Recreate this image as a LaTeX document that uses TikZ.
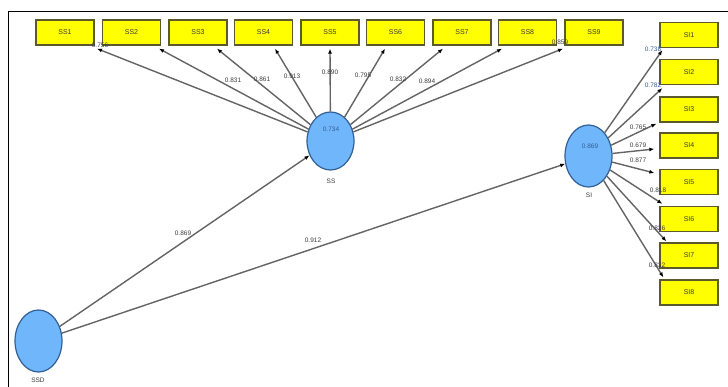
\documentclass[tikz,border=0pt]{standalone}
\usepackage{fontspec}
\setmainfont{Liberation Sans}
\usetikzlibrary{arrows.meta,shapes.geometric}

\definecolor{boxyellow}{RGB}{255,255,0}
\definecolor{boxedge}{RGB}{90,90,45}
\definecolor{latentblue}{RGB}{112,182,250}
\definecolor{latentedge}{RGB}{50,95,150}
\definecolor{pathgray}{RGB}{100,100,100}
\definecolor{txtgray}{RGB}{60,60,60}

\begin{document}
\begin{tikzpicture}[x=1pt, y=-1pt,
		item/.style={rectangle, draw=boxedge, fill=boxyellow, line width=1.3pt,
			minimum width=58pt, minimum height=25pt, inner sep=0pt,
			font=\fontsize{7}{8}\selectfont, text=txtgray},
		latent/.style={ellipse, draw=latentedge, fill=latentblue, line width=1.2pt,
			minimum width=47pt, minimum height=60pt, inner sep=0pt},
		link/.style={draw=pathgray, line width=1.4pt, -{Latex[length=5pt,width=4pt,black]}},
		coef/.style={font=\fontsize{6.5}{7}\selectfont, text=txtgray, inner sep=0pt}
		]
	\fill[white] (0,0) rectangle (728,387);
	\useasboundingbox (0,0) rectangle (728,387);
	\draw[line width=1pt] (8,387) -- (8,12) -- (728,12);

	% latent variables
	\node [latent, minimum height=58pt] (ss) at (330.5,141) {};
	\node [latent, minimum height=62pt] (si) at (588.5,156) {};
	\node [latent, minimum height=62pt] (ssd) at (38.5,341) {};
	\node [coef, text=latentedge] (ssr) at (331,129) {0.734};
	\node [coef, text=latentedge] (sir) at (590,146) {0.869};
	\node [coef] (ssname) at (331,181) {SS};
	\node [coef] (siname) at (589,195) {SI};
	\node [coef] (ssdname) at (38,380) {SSD};

	% indicators
	\foreach \i/\x in {1/65,2/131.5,3/198,4/263.5,5/330,6/395.5,7/462,8/527.5,9/594}
		\node [item] (ss\i) at (\x,32.5) {SS\i};
	\foreach \i/\y in {1/35,2/72,3/109.5,4/145.5,5/182,6/219,7/255.5,8/292.5}
		\node [item] (si\i) at (689,\y) {SI\i};

	% outer loadings SS
	\foreach \i/\dx in {1/32,2/27.5,3/19,4/11.5,5/0,6/-10.5,7/-19,8/-25.5,9/-31}
		\draw [link] (ss) -- ([xshift=\dx pt, yshift=-3pt]ss\i.south);
	\node [coef] (l1) at (100,45) {0.756};
	\node [coef] (l2) at (233,80) {0.831};
	\node [coef] (l3) at (262,79) {0.861};
	\node [coef] (l4) at (292,76) {0.913};
	\node [coef] (l5) at (330,72) {0.890};
	\node [coef] (l6) at (363,75) {0.795};
	\node [coef] (l7) at (398,79) {0.832};
	\node [coef] (l8) at (427,81) {0.894};
	\node [coef] (l9) at (560,42) {0.859};

	% outer loadings SI
	\draw [link] (si) -- ([xshift=3pt, yshift=-2pt]si1.south west);
	\draw [link] (si) -- ([xshift=3pt, yshift=-3pt]si2.south west);
	\draw [link] (si) -- ([xshift=-3pt, yshift=-1pt]si3.south west);
	\draw [link] (si) -- ([xshift=-5pt, yshift=-3.5pt]si4.west);
	\draw [link] (si) -- ([xshift=-5pt, yshift=9pt]si5.west);
	\draw [link] (si) -- ([xshift=3pt, yshift=2pt]si6.north west);
	\draw [link] (si) -- ([xshift=7pt, yshift=1pt]si7.north west);
	\draw [link] (si) -- ([xshift=4pt, yshift=2pt]si8.north west);
	\node [coef, text=latentedge] (m1) at (653,49) {0.738};
	\node [coef, text=latentedge] (m2) at (653,85) {0.782};
	\node [coef] (m3) at (638,127) {0.765};
	\node [coef] (m4) at (638,145) {0.679};
	\node [coef] (m5) at (638,160) {0.877};
	\node [coef] (m6) at (658,190) {0.818};
	\node [coef] (m7) at (657,228) {0.826};
	\node [coef] (m8) at (657,265) {0.832};

	% paths
	\draw [link] (ssd) -- (ss);
	\draw [link] (ssd) -- (si);
	\node [coef] (p1) at (183,233) {0.869};
	\node [coef] (p2) at (313,240) {0.912};
\end{tikzpicture}
\end{document}
